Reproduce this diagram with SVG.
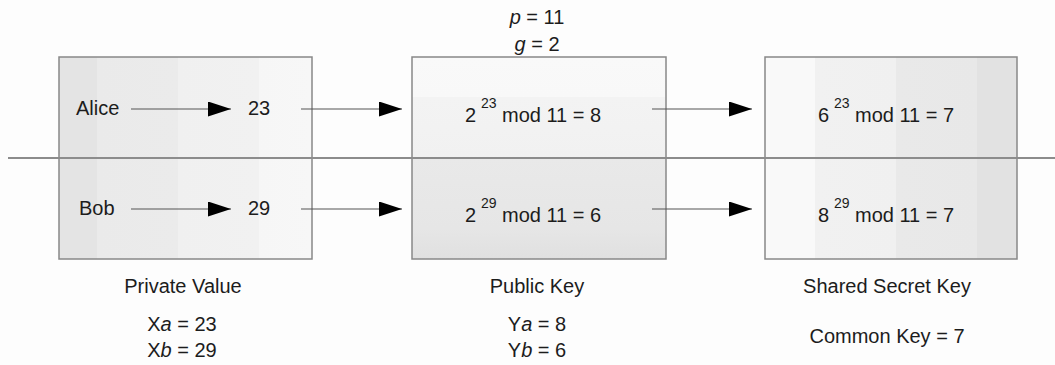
<svg xmlns="http://www.w3.org/2000/svg" width="1055" height="365" viewBox="0 0 1055 365">
<style>
text{font-family:"Liberation Sans",Arial,sans-serif;fill:#1c1c1c;font-size:20px}
.c{text-anchor:middle}
.sup{font-size:14px}
.box{stroke:#888;stroke-width:1.5}
.conn{stroke:#555;stroke-width:1.2;fill:none}
.div{stroke:#8c8c8c;stroke-width:2}
</style>
<defs>
<marker id="ah" viewBox="0 0 23 15" refX="23" refY="7.5" markerWidth="23" markerHeight="15" markerUnits="userSpaceOnUse" orient="auto">
<path d="M0,0 L23,7.5 L0,15 z" fill="#000"/>
</marker>
<linearGradient id="g1" x1="0" y1="0" x2="1" y2="0">
<stop offset="0" stop-color="#e4e4e4"/>
<stop offset="0.15" stop-color="#e4e4e4"/>
<stop offset="0.15" stop-color="#eaeaea"/>
<stop offset="0.47" stop-color="#ebebeb"/>
<stop offset="0.47" stop-color="#f0f0f0"/>
<stop offset="0.79" stop-color="#f1f1f1"/>
<stop offset="0.79" stop-color="#f6f6f6"/>
<stop offset="1" stop-color="#f7f7f7"/>
</linearGradient>
<linearGradient id="g2" x1="0" y1="0" x2="0" y2="1">
<stop offset="0" stop-color="#f9f9f9"/>
<stop offset="0.2" stop-color="#f8f8f8"/>
<stop offset="0.2" stop-color="#f3f3f3"/>
<stop offset="0.5" stop-color="#f1f1f1"/>
<stop offset="0.5" stop-color="#e9e9e9"/>
<stop offset="0.85" stop-color="#e6e6e6"/>
<stop offset="1" stop-color="#e0e0e0"/>
</linearGradient>
<linearGradient id="g3" x1="0" y1="0" x2="1" y2="0">
<stop offset="0" stop-color="#f9f9f9"/>
<stop offset="0.2" stop-color="#f9f9f9"/>
<stop offset="0.2" stop-color="#f1f1f1"/>
<stop offset="0.52" stop-color="#f0f0f0"/>
<stop offset="0.52" stop-color="#e9e9e9"/>
<stop offset="0.84" stop-color="#e8e8e8"/>
<stop offset="0.84" stop-color="#e2e2e2"/>
<stop offset="1" stop-color="#e2e2e2"/>
</linearGradient>
</defs>
<rect width="1055" height="365" fill="#fdfdfd"/>

<g id="params">
<text class="c" x="537" y="24"><tspan font-style="italic">p</tspan> = 11</text>
<text class="c" x="537" y="51"><tspan font-style="italic">g</tspan> = 2</text>
</g>

<g id="private-value">
<rect class="box" x="59" y="57" width="253" height="202" fill="url(#g1)"/>
<text x="76" y="115">Alice</text>
<text x="248" y="115">23</text>
<text x="79" y="215">Bob</text>
<text x="248" y="215">29</text>
<text class="c" x="183" y="293">Private Value</text>
<text class="c" x="182" y="331">X<tspan font-style="italic">a</tspan> = 23</text>
<text class="c" x="182" y="357">X<tspan font-style="italic">b</tspan> = 29</text>
</g>

<g id="public-key">
<rect class="box" x="412" y="57" width="254" height="202" fill="url(#g2)"/>
<text y="122"><tspan x="465">2</tspan><tspan class="sup" x="481" y="108">23</tspan><tspan x="502" y="122">mod 11 = 8</tspan></text>
<text y="222"><tspan x="465">2</tspan><tspan class="sup" x="481" y="208">29</tspan><tspan x="502" y="222">mod 11 = 6</tspan></text>
<text class="c" x="537" y="293">Public Key</text>
<text class="c" x="537" y="331">Y<tspan font-style="italic">a</tspan> = 8</text>
<text class="c" x="537" y="357">Y<tspan font-style="italic">b</tspan> = 6</text>
</g>

<g id="shared-secret-key">
<rect class="box" x="765" y="57" width="252" height="202" fill="url(#g3)"/>
<text y="122"><tspan x="818">6</tspan><tspan class="sup" x="834" y="108">23</tspan><tspan x="855" y="122">mod 11 = 7</tspan></text>
<text y="222"><tspan x="818">8</tspan><tspan class="sup" x="834" y="208">29</tspan><tspan x="855" y="222">mod 11 = 7</tspan></text>
<text class="c" x="887" y="293">Shared Secret Key</text>
<text class="c" x="887" y="343">Common Key = 7</text>
</g>

<g id="divider">
<line class="div" x1="8" y1="158" x2="1055" y2="158"/>
</g>

<g id="connectors">
<line class="conn" x1="131" y1="109" x2="231" y2="109" marker-end="url(#ah)"/>
<line class="conn" x1="131" y1="209" x2="231" y2="209" marker-end="url(#ah)"/>
<line class="conn" x1="301" y1="109" x2="402" y2="109" marker-end="url(#ah)"/>
<line class="conn" x1="301" y1="209" x2="402" y2="209" marker-end="url(#ah)"/>
<line class="conn" x1="652" y1="109" x2="752" y2="109" marker-end="url(#ah)"/>
<line class="conn" x1="652" y1="209" x2="752" y2="209" marker-end="url(#ah)"/>
</g>
</svg>
